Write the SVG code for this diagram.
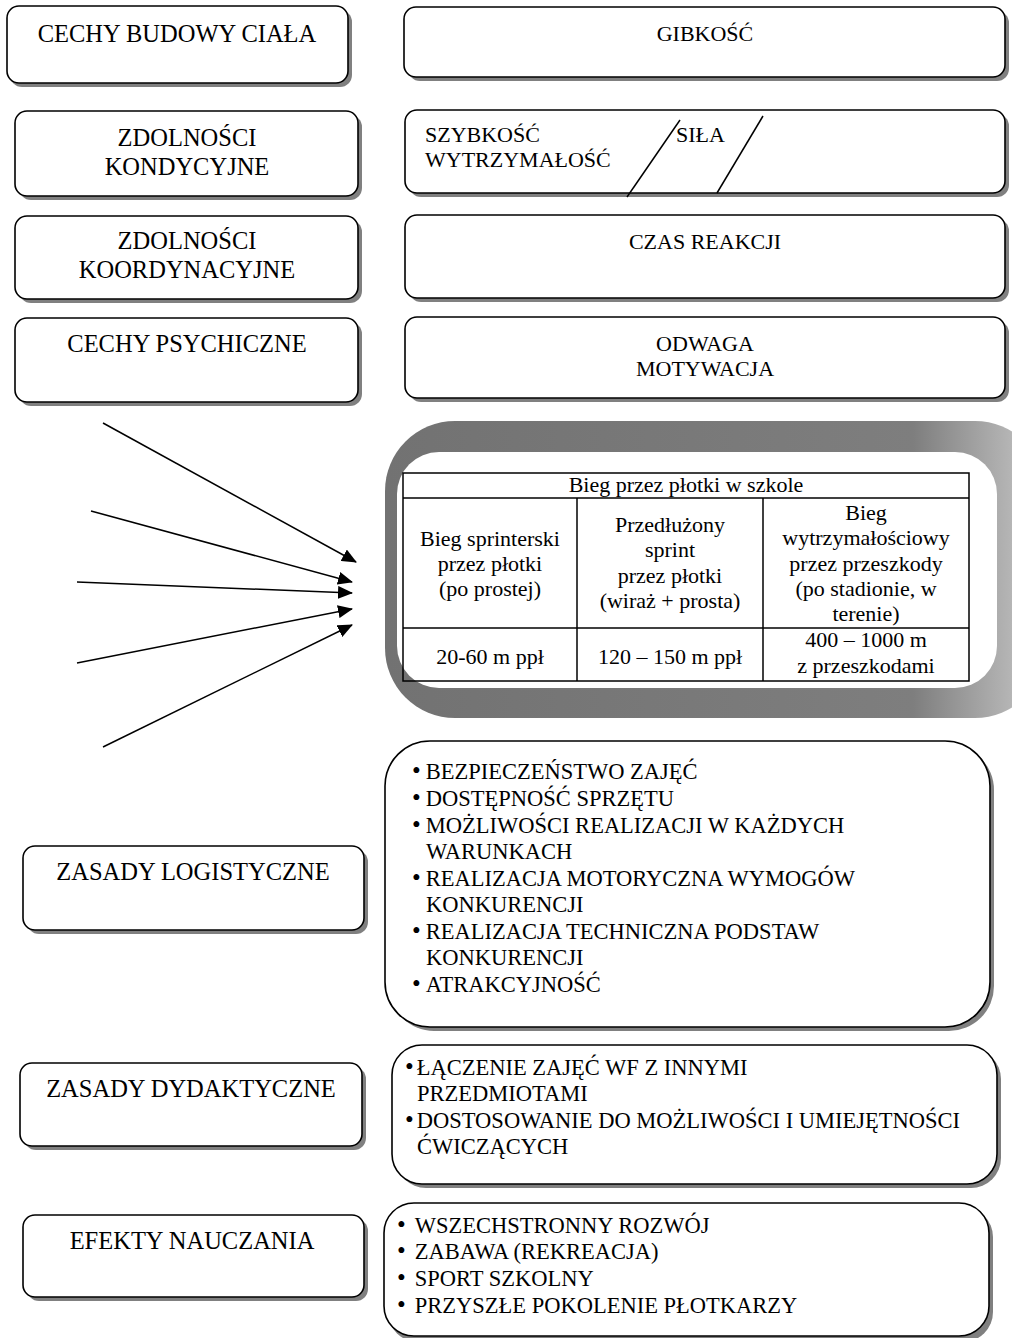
<svg xmlns="http://www.w3.org/2000/svg" width="1012" height="1338" viewBox="0 0 1012 1338">
<defs>
<style>
.box{fill:#fff;stroke:#000;stroke-width:1.6}
.sh{fill:#808080}
.t{font-family:"Liberation Serif","Times New Roman",serif;font-size:22px;fill:#000}
.b{font-family:"Liberation Serif","Times New Roman",serif;font-size:22.5px;fill:#000}
.d{font-size:25px}
.tl{font-family:"Liberation Serif","Times New Roman",serif;font-size:24.5px;fill:#000}
.m{text-anchor:middle}
.ln{stroke:#000;stroke-width:1.5;fill:none}
.cell{fill:none;stroke:#000;stroke-width:1.5}
</style>
<marker id="ah" markerUnits="userSpaceOnUse" markerWidth="15" markerHeight="13" refX="14" refY="6.5" orient="auto">
<path d="M0,0 L15,6.5 L0,13 z" fill="#000"/>
</marker>
<linearGradient id="fr" x1="0" y1="0" x2="1" y2="0">
<stop offset="0" stop-color="#727272"/>
<stop offset="0.8" stop-color="#7e7e7e"/>
<stop offset="1" stop-color="#c8c8c8"/>
</linearGradient>
</defs>

<g id="cechy-budowy">
<rect class="sh" x="10" y="10" width="342" height="77" rx="12"/>
<rect class="box" x="7" y="6" width="341" height="77" rx="12"/>
<text class="tl m" x="177" y="42">CECHY BUDOWY CIAŁA</text>
</g>
<g id="gibkosc">
<rect class="sh" x="408" y="11" width="601" height="70" rx="12"/>
<rect class="box" x="404" y="7" width="601" height="70" rx="12"/>
<text class="t m" x="705" y="41">GIBKOŚĆ</text>
</g>

<g id="zdolnosci-kondycyjne">
<rect class="sh" x="19" y="115" width="343" height="85" rx="12"/>
<rect class="box" x="15" y="111" width="343" height="85" rx="12"/>
<text class="tl m" x="187" y="146">ZDOLNOŚCI</text>
<text class="tl m" x="187" y="175">KONDYCYJNE</text>
</g>
<g id="szybkosc">
<rect class="sh" x="409" y="114" width="600" height="83" rx="12"/>
<rect class="box" x="405" y="110" width="600" height="83" rx="12"/>
<text class="t" x="425" y="142">SZYBKOŚĆ</text>
<text class="t" x="425" y="167">WYTRZYMAŁOŚĆ</text>
<text class="t" x="676" y="142">SIŁA</text>
<line class="ln" x1="627" y1="197" x2="680" y2="120"/>
<line class="ln" x1="717" y1="193" x2="763" y2="116"/>
</g>

<g id="zdolnosci-koordynacyjne">
<rect class="sh" x="19" y="220" width="343" height="83" rx="12"/>
<rect class="box" x="15" y="216" width="343" height="83" rx="12"/>
<text class="tl m" x="187" y="249">ZDOLNOŚCI</text>
<text class="tl m" x="187" y="278">KOORDYNACYJNE</text>
</g>
<g id="czas-reakcji">
<rect class="sh" x="409" y="219" width="600" height="83" rx="12"/>
<rect class="box" x="405" y="215" width="600" height="83" rx="12"/>
<text class="t m" x="705" y="249">CZAS REAKCJI</text>
</g>

<g id="cechy-psychiczne">
<rect class="sh" x="19" y="322" width="343" height="84" rx="12"/>
<rect class="box" x="15" y="318" width="343" height="84" rx="12"/>
<text class="tl m" x="187" y="352">CECHY PSYCHICZNE</text>
</g>
<g id="odwaga">
<rect class="sh" x="409" y="321" width="600" height="81" rx="12"/>
<rect class="box" x="405" y="317" width="600" height="81" rx="12"/>
<text class="t m" x="705" y="351">ODWAGA</text>
<text class="t m" x="705" y="376">MOTYWACJA</text>
</g>

<g id="connectors">
<line class="ln" x1="103" y1="423" x2="356" y2="562" marker-end="url(#ah)"/>
<line class="ln" x1="91" y1="511" x2="352" y2="582" marker-end="url(#ah)"/>
<line class="ln" x1="77" y1="582" x2="352" y2="593" marker-end="url(#ah)"/>
<line class="ln" x1="77" y1="663" x2="352" y2="609" marker-end="url(#ah)"/>
<line class="ln" x1="103" y1="747" x2="352" y2="625" marker-end="url(#ah)"/>
</g>

<g id="bieg-przez-plotki">
<rect x="385" y="421" width="660" height="297" rx="70" fill="url(#fr)"/>
<rect x="397" y="452" width="600" height="236" rx="42" fill="#fff"/>
<rect class="cell" x="403" y="473" width="566" height="208"/>
<line class="cell" x1="403" y1="498" x2="969" y2="498"/>
<line class="cell" x1="403" y1="628" x2="969" y2="628"/>
<line class="cell" x1="577" y1="498" x2="577" y2="681"/>
<line class="cell" x1="763" y1="498" x2="763" y2="681"/>
<text class="t m" x="686" y="492">Bieg przez płotki w szkole</text>
<text class="t m" x="490" y="546">Bieg sprinterski</text>
<text class="t m" x="490" y="571">przez płotki</text>
<text class="t m" x="490" y="596">(po prostej)</text>
<text class="t m" x="670" y="532">Przedłużony</text>
<text class="t m" x="670" y="557">sprint</text>
<text class="t m" x="670" y="583">przez płotki</text>
<text class="t m" x="670" y="608">(wiraż + prosta)</text>
<text class="t m" x="866" y="520">Bieg</text>
<text class="t m" x="866" y="545">wytrzymałościowy</text>
<text class="t m" x="866" y="571">przez przeszkody</text>
<text class="t m" x="866" y="596">(po stadionie, w</text>
<text class="t m" x="866" y="621">terenie)</text>
<text class="t m" x="490" y="664">20-60 m ppł</text>
<text class="t m" x="670" y="664">120 – 150 m ppł</text>
<text class="t m" x="866" y="647">400 – 1000 m</text>
<text class="t m" x="866" y="673">z przeszkodami</text>
</g>

<g id="zasady-logistyczne">
<rect class="sh" x="27" y="850" width="341" height="84" rx="12"/>
<rect class="box" x="23" y="846" width="341" height="84" rx="12"/>
<text class="tl m" x="193" y="880">ZASADY LOGISTYCZNE</text>
</g>
<g id="logistyczne-lista">
<rect class="sh" x="389" y="745" width="605" height="286" rx="45"/>
<rect class="box" x="385" y="741" width="605" height="286" rx="45"/>
<text class="b" x="412" y="779"><tspan class="d">•</tspan><tspan dx="5">BEZPIECZEŃSTWO ZAJĘĆ</tspan></text>
<text class="b" x="412" y="806"><tspan class="d">•</tspan><tspan dx="5">DOSTĘPNOŚĆ SPRZĘTU</tspan></text>
<text class="b" x="412" y="833"><tspan class="d">•</tspan><tspan dx="5">MOŻLIWOŚCI REALIZACJI W KAŻDYCH</tspan></text>
<text class="b" x="426" y="859">WARUNKACH</text>
<text class="b" x="412" y="886"><tspan class="d">•</tspan><tspan dx="5">REALIZACJA MOTORYCZNA WYMOGÓW</tspan></text>
<text class="b" x="426" y="912">KONKURENCJI</text>
<text class="b" x="412" y="939"><tspan class="d">•</tspan><tspan dx="5">REALIZACJA TECHNICZNA PODSTAW</tspan></text>
<text class="b" x="426" y="965">KONKURENCJI</text>
<text class="b" x="412" y="992"><tspan class="d">•</tspan><tspan dx="5">ATRAKCYJNOŚĆ</tspan></text>
</g>

<g id="zasady-dydaktyczne">
<rect class="sh" x="24" y="1067" width="342" height="83" rx="12"/>
<rect class="box" x="20" y="1063" width="342" height="83" rx="12"/>
<text class="tl m" x="191" y="1097">ZASADY DYDAKTYCZNE</text>
</g>
<g id="dydaktyczne-lista">
<rect class="sh" x="396" y="1049" width="605" height="139" rx="30"/>
<rect class="box" x="392" y="1045" width="605" height="139" rx="30"/>
<text class="b" x="405" y="1075"><tspan class="d">•</tspan><tspan dx="3">ŁĄCZENIE ZAJĘĆ WF Z INNYMI</tspan></text>
<text class="b" x="417" y="1101">PRZEDMIOTAMI</text>
<text class="b" x="405" y="1128"><tspan class="d">•</tspan><tspan dx="3">DOSTOSOWANIE DO MOŻLIWOŚCI I UMIEJĘTNOŚCI</tspan></text>
<text class="b" x="417" y="1154">ĆWICZĄCYCH</text>
</g>

<g id="efekty-nauczania">
<rect class="sh" x="27" y="1219" width="341" height="82" rx="12"/>
<rect class="box" x="23" y="1215" width="341" height="82" rx="12"/>
<text class="tl m" x="192" y="1249">EFEKTY NAUCZANIA</text>
</g>
<g id="efekty-lista">
<rect class="sh" x="388" y="1207" width="605" height="135" rx="30"/>
<rect class="box" x="384" y="1203" width="605" height="133" rx="30"/>
<text class="b" x="397" y="1233"><tspan class="d">•</tspan><tspan dx="9">WSZECHSTRONNY ROZWÓJ</tspan></text>
<text class="b" x="397" y="1259"><tspan class="d">•</tspan><tspan dx="9">ZABAWA (REKREACJA)</tspan></text>
<text class="b" x="397" y="1286"><tspan class="d">•</tspan><tspan dx="9">SPORT SZKOLNY</tspan></text>
<text class="b" x="397" y="1313"><tspan class="d">•</tspan><tspan dx="9">PRZYSZŁE POKOLENIE PŁOTKARZY</tspan></text>
</g>
</svg>
